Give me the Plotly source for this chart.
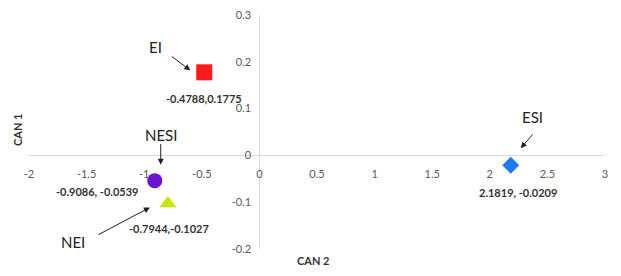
import plotly.graph_objects as go

# ---- data ----
groups = ["EI", "NESI", "NEI", "ESI"]
can2 = [-0.4788, -0.9086, -0.7944, 2.1819]
can1 = [0.1775, -0.0539, -0.1027, -0.0209]
label_sep = [",", ", ", ",", ", "]
x_ticks = [-2, -1.5, -1, -0.5, 0, 0.5, 1, 1.5, 2, 2.5, 3]
y_ticks = [-0.2, -0.1, 0, 0.1, 0.2, 0.3]

# ---- styles ----
symbols = ["square", "circle", "triangle-up", "diamond"]
colors = ["#fb1b1b", "#6c14d6", "#c8e60a", "#1b7cf2"]
sizes = [16, 15, 15, 13]
# value-label offsets (px) relative to marker
val_off = [(0, -26), (-58, -11), (1, -25), (7, -27)]
# arrow head shift (px, y up) from marker, and tail offset from head (px, y down)
arrow_head = [(-14, 2), (6, 16), (-18, -4), (10, 17)]
arrow_tail = [(-20, -15), (0, -22), (-53, 28), (13, -15)]
# name text offset from marker (px, y up)
name_off = [(-49, 25), (6, 46), (-95, -39), (22, 48)]

FONT = "Lato, 'Open Sans', sans-serif"

fig = go.Figure()
for g, x, y, s, c, sz in zip(groups, can2, can1, symbols, colors, sizes):
    fig.add_trace(go.Scatter(x=[x], y=[y], mode="markers", name=g,
                             marker=dict(symbol=s, color=c, size=sz, line=dict(width=0)),
                             showlegend=False, cliponaxis=False))

ann = []
for i, g in enumerate(groups):
    x, y = can2[i], can1[i]
    ann.append(dict(x=x, y=y, xref="x", yref="y", showarrow=False,
                    text=f"<b>{x:.4f}{label_sep[i]}{y:.4f}</b>",
                    xshift=val_off[i][0], yshift=val_off[i][1],
                    font=dict(family=FONT, size=11, color="#333333")))
    ann.append(dict(x=x, y=y, xref="x", yref="y", showarrow=True, text="",
                    xshift=arrow_head[i][0], yshift=arrow_head[i][1],
                    ax=arrow_tail[i][0], ay=arrow_tail[i][1],
                    arrowhead=2, arrowsize=1.2, arrowwidth=1, arrowcolor="#222222"))
    ann.append(dict(x=x, y=y, xref="x", yref="y", showarrow=False, text=g,
                    xshift=name_off[i][0], yshift=name_off[i][1],
                    font=dict(family=FONT, size=15, color="#222222")))

ann.append(dict(x=-0.019, y=0.509, xref="paper", yref="paper", showarrow=False,
                xanchor="center", yanchor="middle",
                text="<b>CAN 1</b>", textangle=-90,
                font=dict(family=FONT, size=11, color="#333333")))
ann.append(dict(x=0.493, y=-0.051, xref="paper", yref="paper", showarrow=False,
                xanchor="center", yanchor="middle",
                text="<b>CAN 2</b>",
                font=dict(family=FONT, size=11, color="#333333")))

# page body has an 8px default margin, so the figure is sized to fit inside it
fig.update_layout(
    width=613, height=268,
    margin=dict(l=21, r=16, t=7, b=27, autoexpand=False),
    paper_bgcolor="white", plot_bgcolor="white",
    annotations=ann,
    xaxis=dict(range=[-2, 3], tickvals=x_ticks, ticktext=[f"{v:g}" for v in x_ticks],
               anchor="free", position=0.4, showgrid=False, zeroline=False,
               showline=True, linecolor="#d9d9d9", linewidth=1, ticks="",
               automargin=False,
               ticklabelstandoff=8, ticklabeloverflow="allow",
               tickfont=dict(family=FONT, size=11, color="#595959")),
    yaxis=dict(range=[-0.2, 0.3], tickvals=y_ticks, ticktext=[f"{v:g}" for v in y_ticks],
               anchor="free", position=0.4, showgrid=False, zeroline=False,
               showline=True, linecolor="#d9d9d9", linewidth=1, ticks="",
               automargin=False,
               ticklabelstandoff=6, ticklabeloverflow="allow",
               tickfont=dict(family=FONT, size=11, color="#595959")),
)

fig.write_html("out.html")
